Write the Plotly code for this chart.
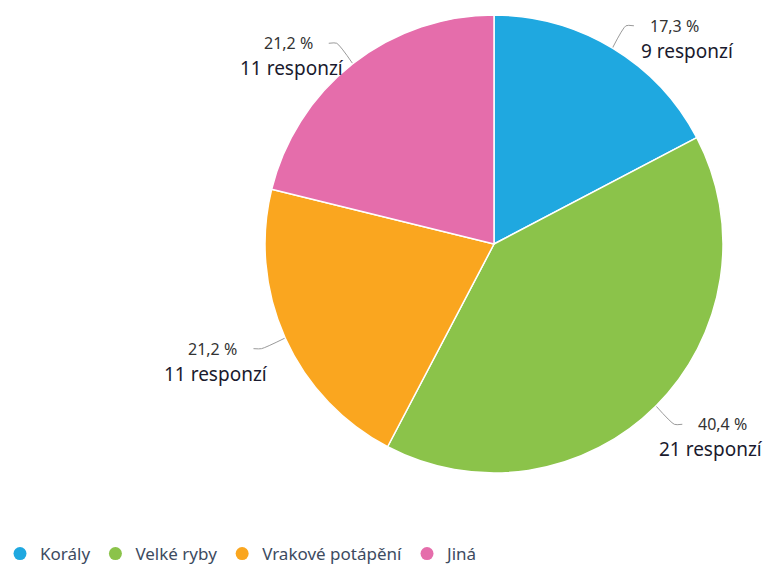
import math
import plotly.graph_objects as go

categories = ["Korály", "Velké ryby", "Vrakové potápění", "Jiná"]
counts = [9, 21, 11, 11]
colors = ["#1fa8e0", "#8bc34a", "#faa61f", "#e56dab"]

W, H = 769, 568
cx, cy, r = 494, 244, 229
FONT = "Noto Sans"
COUNT_SIZE = 19

total = sum(counts)
fig = go.Figure()

fig.add_trace(go.Pie(
    labels=categories, values=counts, sort=False, direction="clockwise", rotation=0,
    marker=dict(colors=colors, line=dict(color="white", width=1.5)),
    textinfo="none", hoverinfo="label+value+percent", showlegend=False,
    domain=dict(x=[(cx - r) / W, (cx + r) / W], y=[1 - (cy + r) / H, 1 - (cy - r) / H]),
))

# leader lines and labels
cum = 0
for cat, v in zip(categories, counts):
    mid = (cum + v / 2) / total * 2 * math.pi
    cum += v
    s, c = math.sin(mid), math.cos(mid)
    x1, y1 = cx + r * s, cy - r * c
    x2, y2 = cx + (r + 26) * s, cy - (r + 26) * c
    side = 1 if s >= 0 else -1
    x3, y3 = x2 + side * 8, y2
    fig.add_trace(go.Scatter(x=[x1, x2, x3], y=[y1, y2, y3], mode="lines",
                             line=dict(color="#9a9a9a", width=1, shape="spline", smoothing=0.6),
                             hoverinfo="skip", showlegend=False))
    pct = f"{v / total * 100:.1f}".replace(".", ",") + " %"
    fig.add_annotation(x=x3 + side * 14, y=y3, text=pct, showarrow=False,
                       xanchor="left" if side > 0 else "right", yanchor="middle",
                       font=dict(family=FONT, size=16, color="#333333"))
    ctext = f"{v} responzí"
    est_w = len(ctext) * COUNT_SIZE * 0.53
    if side > 0:
        if x3 + 5 + est_w > W - 4:
            cxp, anc = W - 4, "right"
        else:
            cxp, anc = x3 + 5, "left"
    else:
        cxp, anc = x3 + 17, "right"
    fig.add_annotation(x=cxp, y=y3 + 25, text=ctext, showarrow=False, xanchor=anc,
                       yanchor="middle", font=dict(family=FONT, size=COUNT_SIZE, color="#1a1a2e"))

# legend entries with circle markers
for cat, col in zip(categories, colors):
    fig.add_trace(go.Scatter(x=[None], y=[None], mode="markers", name=cat,
                             marker=dict(symbol="circle", size=13, color=col)))

fig.update_layout(
    width=W, height=H, margin=dict(l=0, r=0, t=0, b=0, autoexpand=False),
    paper_bgcolor="white", plot_bgcolor="white",
    xaxis=dict(range=[0, W], visible=False, fixedrange=True),
    yaxis=dict(range=[H, 0], visible=False, fixedrange=True),
    showlegend=True,
    legend=dict(orientation="h", x=0, xanchor="left", y=1 - 554 / H, yanchor="middle",
                font=dict(family=FONT, size=17, color="#3d4b5f"), itemwidth=30,
                bgcolor="rgba(0,0,0,0)"),
    font=dict(family=FONT),
)

fig.write_html("out.html", config={"displayModeBar": False},
               post_script="document.body.style.margin='0';")
